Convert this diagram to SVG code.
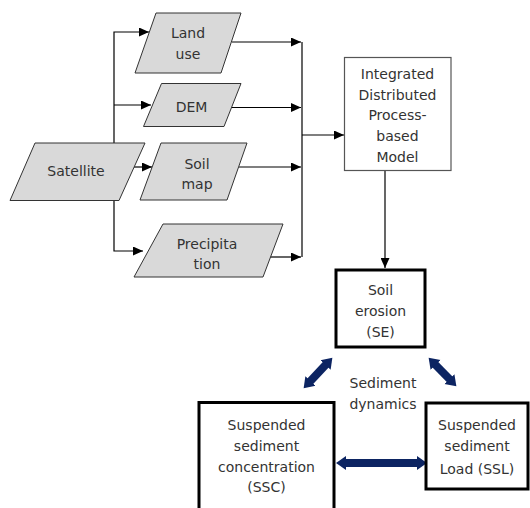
<svg xmlns="http://www.w3.org/2000/svg" width="530" height="508" viewBox="0 0 530 508">
<defs>
<marker id="ah" markerUnits="userSpaceOnUse" markerWidth="10" markerHeight="9" viewBox="0 0 10 9" refX="10" refY="4.5" orient="auto">
<path d="M0,0 L10,4.5 L0,9 z" fill="#000"/>
</marker>
<marker id="bh" markerUnits="userSpaceOnUse" markerWidth="12" markerHeight="16" viewBox="0 -8 12 16" refX="1" refY="0" orient="auto-start-reverse">
<path d="M0,-7 L10,0 L0,7 z" fill="#0c2462"/>
</marker>
<style>
.par{fill:#d9d9d9;stroke:#333;stroke-width:1}
.box{fill:#fff;stroke:#555;stroke-width:1.2}
.tbox{fill:#fff;stroke:#000;stroke-width:3}
text{font-family:"DejaVu Sans",sans-serif;font-size:14px;fill:#333;text-anchor:middle}
.ln{fill:none;stroke:#000;stroke-width:1.2}
.bl{fill:none;stroke:#0c2462;stroke-width:8}
</style>
</defs>
<rect width="530" height="508" fill="#fff"/>
<g id="connectors">
<polyline class="ln" points="114,143 114,32 149,32" marker-end="url(#ah)"/>
<line class="ln" x1="114" y1="105" x2="151" y2="105" marker-end="url(#ah)"/>
<line class="ln" x1="134" y1="167" x2="152" y2="167" marker-end="url(#ah)"/>
<polyline class="ln" points="114,200 114,251 143,251" marker-end="url(#ah)"/>
<line class="ln" x1="232" y1="42" x2="301" y2="42" marker-end="url(#ah)"/>
<line class="ln" x1="231" y1="107.5" x2="301" y2="107.5" marker-end="url(#ah)"/>
<line class="ln" x1="239" y1="167" x2="301" y2="167" marker-end="url(#ah)"/>
<line class="ln" x1="270" y1="257" x2="301" y2="257" marker-end="url(#ah)"/>
<line class="ln" x1="302" y1="42" x2="302" y2="257"/>
<line class="ln" x1="302" y1="135" x2="344" y2="135" marker-end="url(#ah)"/>
<line class="ln" x1="385" y1="171" x2="385" y2="268" marker-end="url(#ah)"/>
<line class="bl" x1="309.8" y1="381.7" x2="326.2" y2="364.3" marker-start="url(#bh)" marker-end="url(#bh)"/>
<line class="bl" x1="434.9" y1="364.2" x2="450.1" y2="379.8" marker-start="url(#bh)" marker-end="url(#bh)"/>
<line class="bl" x1="345" y1="463" x2="418" y2="463" marker-start="url(#bh)" marker-end="url(#bh)"/>
</g>
<g id="satellite">
<polygon class="par" points="35,143 145,143 119,200.5 10,200.5"/>
<text x="76" y="176">Satellite</text>
</g>
<g id="landuse">
<polygon class="par" points="156,13 241,13 221,73 135,73"/>
<text x="188" y="38">Land</text>
<text x="188" y="58.5">use</text>
</g>
<g id="dem">
<polygon class="par" points="161.5,83.5 241,83.5 224,126.5 143.5,126.5"/>
<text x="191.5" y="112">DEM</text>
</g>
<g id="soilmap">
<polygon class="par" points="161,143 247,143 227,200 140,200"/>
<text x="197" y="168.5">Soil</text>
<text x="197" y="189">map</text>
</g>
<g id="precipitation">
<polygon class="par" points="163,224 283,224 263,277 134,277"/>
<text x="207" y="248.5">Precipita</text>
<text x="207" y="269">tion</text>
</g>
<g id="model">
<rect class="box" x="344.5" y="57.5" width="106.5" height="113"/>
<text x="397.5" y="78.5">Integrated</text>
<text x="397.5" y="99.5">Distributed</text>
<text x="397.5" y="120">Process-</text>
<text x="397.5" y="141">based</text>
<text x="397.5" y="161.5">Model</text>
</g>
<g id="soilerosion">
<rect class="tbox" x="336" y="270" width="89" height="77"/>
<text x="380.5" y="295">Soil</text>
<text x="380.5" y="316">erosion</text>
<text x="380.5" y="337">(SE)</text>
</g>
<g id="dynamics">
<text x="383" y="388">Sediment</text>
<text x="383" y="409">dynamics</text>
</g>
<g id="ssc">
<rect class="tbox" x="199" y="402.5" width="135" height="110"/>
<text x="266.5" y="430">Suspended</text>
<text x="266.5" y="451">sediment</text>
<text x="266.5" y="471.5">concentration</text>
<text x="266.5" y="492">(SSC)</text>
</g>
<g id="ssl">
<rect class="tbox" x="426" y="403" width="102" height="86"/>
<text x="477" y="430">Suspended</text>
<text x="477" y="451">sediment</text>
<text x="477" y="474">Load (SSL)</text>
</g>
</svg>
